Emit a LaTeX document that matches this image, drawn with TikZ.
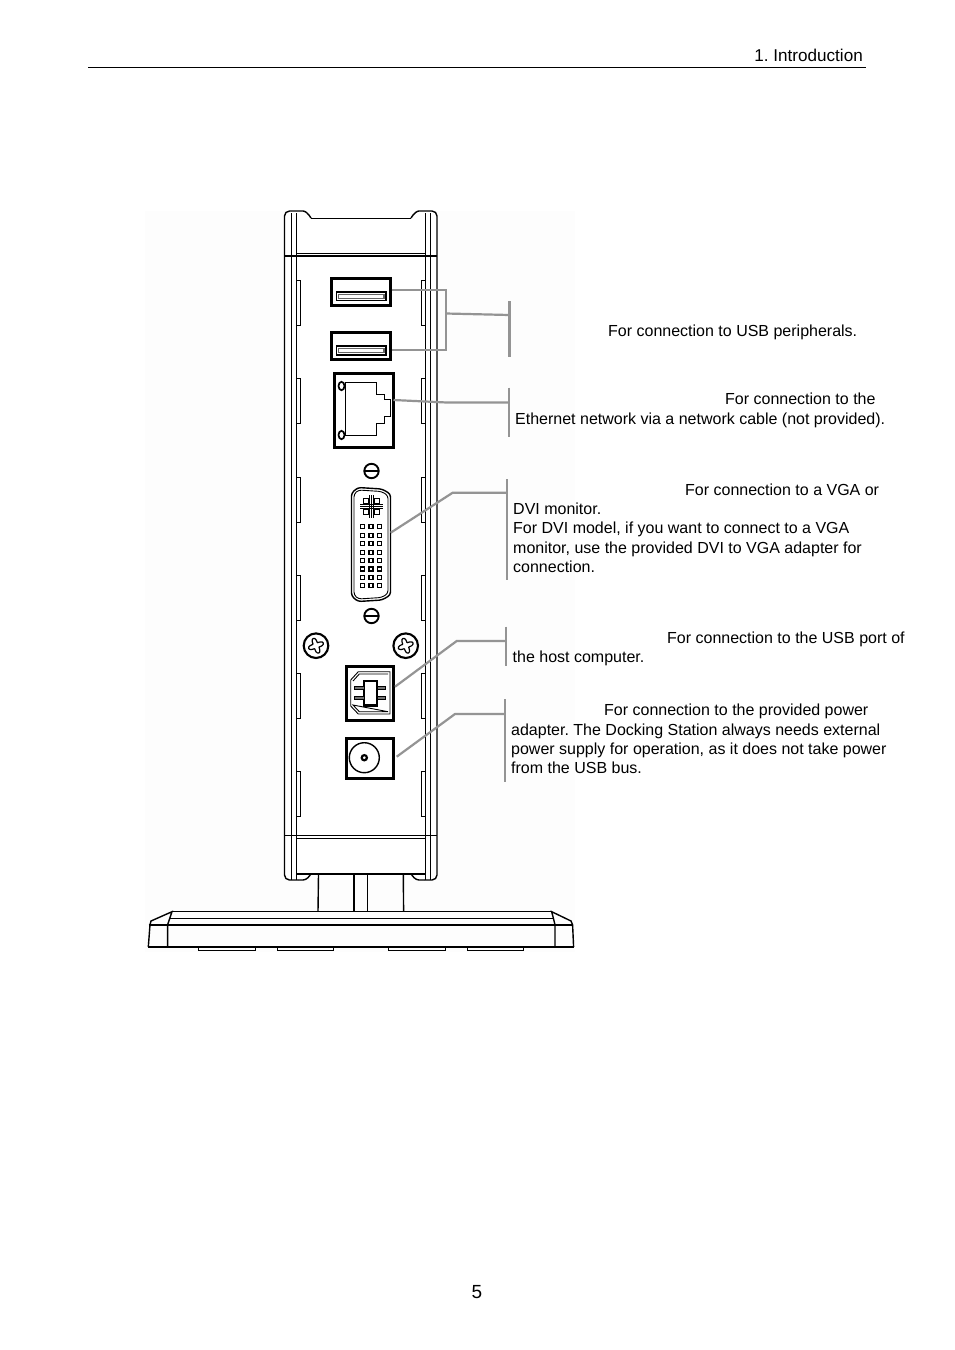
\documentclass[tikz,border=0pt]{standalone}
\usepackage{fontspec}
\setmainfont{Liberation Sans}
\frenchspacing
\definecolor{scanshade}{gray}{0.992}
\tikzset{
  body/.style={line width=1.4pt,black},
  thin part/.style={line width=0.9pt,black},
  port/.style={line width=3pt,black},
  leader/.style={line width=2.2pt,color=black!42},
  note/.style={anchor=base west,inner sep=0pt,font=\fontsize{16}{19.3}\selectfont},
  pagetext/.style={inner sep=0pt,font=\fontsize{17.1}{20}\selectfont}
}
\begin{document}
\begin{tikzpicture}[x=1pt,y=-1pt]
  \useasboundingbox (0,0) rectangle (954,1350);
  \fill[scanshade] (145,211) rectangle (575,952);
  % header
  \node[pagetext,anchor=base east] (header) at (863,61) {1. Introduction};
  \draw[line width=1.1pt] (88,67.5) -- (866,67.5);
  \node[pagetext,anchor=base,font=\fontsize{19}{20}\selectfont] (pagenum) at (477,1298.5) {5};
  % housing
  \fill[white] (284.5,211) rectangle (437,880);
  \draw[body,rounded corners=5pt] (311,218) .. controls (308,213) and (305,211) .. (298,211) -- (284.5,211) -- (284.5,880) -- (298,880);
  \draw[body,rounded corners=5pt] (411,218) .. controls (414,213) and (417,211) .. (424,211) -- (437,211) -- (437,880) -- (424,880);
  \draw[thin part] (311,218) -- (411,218);
  \draw[thin part] (291.5,213) -- (291.5,880) (296,213) -- (296,880);
  \draw[thin part] (425.5,213) -- (425.5,880) (430,213) -- (430,880);
  \draw[thin part] (296,253) -- (425.5,253);
  \draw[body] (284.5,255.8) -- (437,255.8);
  \draw[body] (284.5,835.7) -- (437,835.7);
  \draw[thin part] (296,838.3) -- (425.5,838.3);
  \draw[body] (296,874) -- (425.5,874);
  \draw[body,rounded corners=3pt] (298,880) -- (306,880) -- (311,874);
  \draw[body,rounded corners=3pt] (424,880) -- (416,880) -- (411,874);
  % slots on both sides
  \foreach \sy in {280,378,477,575,673,771}{
    \draw[thin part] (296,\sy) -- (300.7,\sy) -- (300.7,\sy+45) -- (296,\sy+45);
    \draw[thin part] (425.5,\sy) -- (421,\sy) -- (421,\sy+45) -- (425.5,\sy+45);
  }
  % stand
  \draw[body] (318.5,874) -- (318,911.7) (403.3,874) -- (403.6,911.7);
  \draw[body] (354,874) -- (354,911.7) (367.3,874) -- (367.3,911.7);
  \draw[body] (172,911.7) -- (551.7,911.7);
  \draw[thin part] (170,918) -- (554,918);
  \draw[line width=1.8pt] (148.5,924.8) -- (573,924.8);
  \draw[body] (148.3,947) -- (150,924.8) -- (151,921) -- (172,911.7) -- (167.6,924.8) -- (167.6,947);
  \draw[body] (573.6,947) -- (572.6,924.8) -- (571,921) -- (551.7,911.7) -- (555,924.8) -- (555,947);
  \draw[body] (148.3,947) -- (573.6,947);
  \foreach \fa/\fb in {198/255,277/333,388/445,467/523}{
    \draw[thin part] (\fa,947) -- (\fa,950.8) -- (\fb,950.8) -- (\fb,947);
  }
  % USB A ports
  \foreach \uy in {278,332.3}{
    \draw[port] (331.3,\uy) rectangle (390.3,\uy+27);
    \draw[line width=1.7pt] (336.5,\uy+14) rectangle (386,\uy+22.5);
    \draw[line width=1.2pt,black!60] (338.5,\uy+16.2) rectangle (384,\uy+20.3);
  }
  % RJ45 port
  \draw[port] (334.8,373.5) rectangle (393.8,447);
  \draw[thin part] (345.7,382.7) -- (376.7,382.7) -- (376.7,394.3) -- (384,394.3) -- (384,399.3) -- (390.7,399.3) -- (390.7,416.7) -- (384,416.7) -- (384,423.3) -- (376.7,423.3) -- (376.7,435) -- (345.7,435) -- cycle;
  \draw[line width=1.7pt] (341.5,386) ellipse (3 and 4.2);
  \draw[line width=1.7pt] (341.5,435) ellipse (3 and 4.2);
  % small screws
  \draw[line width=1.9pt] (371.5,471) circle (7.2);
  \draw[line width=1.4pt] (364.3,471) -- (378.7,471);
  \draw[line width=1.9pt] (371.5,616) circle (7.2);
  \draw[line width=2.4pt] (364.3,616) -- (378.7,616);
  % DVI port
  \draw[body,rounded corners=3pt] (358,487.5) -- (382,489) -- (390.5,494) -- (390.5,595) -- (382,600) -- (358,601.5) -- (351.5,596) -- (351.5,493) -- cycle;
  \draw[thin part,rounded corners=3pt] (358.5,490) -- (381.5,491.5) -- (388,495.5) -- (388,593.5) -- (381.5,597.5) -- (358.5,599) -- (354,595) -- (354,494) -- cycle;
  \foreach \pa in {366,377}{
    \foreach \pb in {501,512}{
      \draw[line width=1.2pt] (\pa-2.7,\pb-2.7) rectangle (\pa+2.7,\pb+2.7);
    }
  }
  \draw[line width=1.2pt] (371.5,495) -- (371.5,518) (360,506.5) -- (383,506.5);
  \draw[thin part] (369.7,495) -- (369.7,518) (373.3,495) -- (373.3,518) (360,504.8) -- (383,504.8) (360,508.2) -- (383,508.2);
  \foreach \row in {0,...,7}{
    \foreach \col in {362.7,371,379.7}{
      \draw[line width=1.1pt] (\col-2,526.7+\row*8.45-2) rectangle (\col+2,526.7+\row*8.45+2);
    }
  }
  % big screws
  \foreach \cx in {316,405.7}{
    \draw[line width=2.1pt] (\cx,645.7) circle (12.3);
    \draw[line width=1.2pt,shift={(\cx,645.7)},rotate=20] plot[domain=0:350,samples=36,smooth cycle] ({(5.6+2.2*cos(4*\x))*cos(\x)},{(5.6+2.2*cos(4*\x))*sin(\x)});
  }
  % USB B port
  \draw[port] (346,666.3) rectangle (393.8,720.5);
  \draw[thin part] (350.7,680) -- (358.3,671.7) -- (390,671.7) -- (390,714) -- (358.3,714) -- (350.7,706) -- cycle;
  \draw[thin part] (353,681) -- (359.3,674) -- (388,674) (388,711.7) -- (359.3,711.7) -- (353,705) -- cycle;
  \draw[line width=2.2pt] (364,681) rectangle (377,705.5);
  \foreach \py in {687.7,698.3}{
    \draw[thin part,fill=black!55] (354.5,\py-1.6) rectangle (364,\py+1.6);
    \draw[thin part,fill=black!55] (377,\py-1.6) rectangle (385,\py+1.6);
  }
  % power port
  \draw[port] (346,738) rectangle (393.8,778);
  \draw[line width=1.4pt] (364.3,757.7) circle (15);
  \draw[line width=2.2pt] (364.3,757.7) circle (2.6);
  % leaders
  \coordinate (usbupper) at (391.5,290);
  \coordinate (usblower) at (391.5,350);
  \coordinate (usbjoin) at (446,313.5);
  \coordinate (usbend) at (509.5,315);
  \coordinate (lanport) at (393.5,400);
  \coordinate (lanbend) at (446.7,402.5);
  \coordinate (lanend) at (509,402.5);
  \coordinate (dviport) at (390.7,532.7);
  \coordinate (dvibend) at (452.7,492.7);
  \coordinate (dviend) at (506.7,492.7);
  \coordinate (hostport) at (395,686.7);
  \coordinate (hostbend) at (456.7,641);
  \coordinate (hostend) at (506,641);
  \coordinate (powerport) at (396.7,756.7);
  \coordinate (powerbend) at (455,714);
  \coordinate (powerend) at (505,714);
  \draw[leader] (usbupper) -- (446,290) -- (446,350) -- (usblower);
  \draw[leader] (usbjoin) -- (usbend);
  \draw[leader] (lanport) -- (lanbend) -- (lanend);
  \draw[leader] (dviport) -- (dvibend) -- (dviend);
  \draw[leader] (hostport) -- (hostbend) -- (hostend);
  \draw[leader] (powerport) -- (powerbend) -- (powerend);
  % brackets
  \draw[leader] (509.5,301) -- (509.5,356.7);
  \draw[leader] (509,387.7) -- (509,436.7);
  \draw[leader] (506.7,479.3) -- (506.7,580);
  \draw[leader] (506,626.7) -- (506,666);
  \draw[leader] (505,699.3) -- (505,781.7);
  % notes
  \node[note] (usbnote) at (608,336) {For connection to USB peripherals.};
  \node[note] (lannote) at (725,404) {For connection to the};
  \node[note] (lannoteb) at (515,424) {Ethernet network via a network cable (not provided).};
  \node[note] (dvinote) at (685,495) {For connection to a VGA or};
  \node[note] (dvinoteb) at (513,514) {DVI monitor.};
  \node[note] (dvinotec) at (513,533) {For DVI model, if you want to connect to a VGA};
  \node[note] (dvinoted) at (513,553) {monitor, use the provided DVI to VGA adapter for};
  \node[note] (dvinotee) at (513,572) {connection.};
  \node[note] (hostnote) at (667,643) {For connection to the USB port of};
  \node[note] (hostnoteb) at (512.5,662) {the host computer.};
  \node[note] (powernote) at (604,715) {For connection to the provided power};
  \node[note] (powernoteb) at (511,735) {adapter. The Docking Station always needs external};
  \node[note] (powernotec) at (511,754) {power supply for operation, as it does not take power};
  \node[note] (powernoted) at (511,773) {from the USB bus.};
\end{tikzpicture}
\end{document}
